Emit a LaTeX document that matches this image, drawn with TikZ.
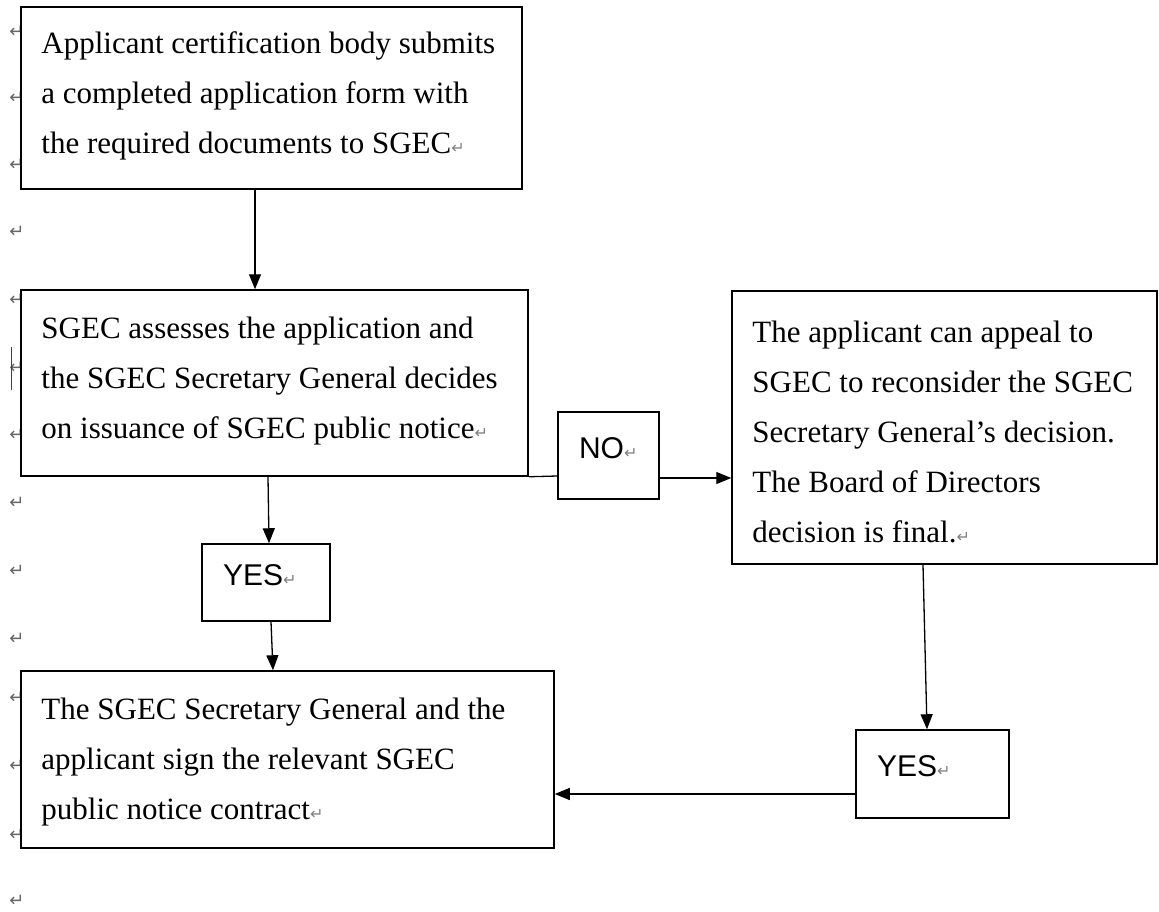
\documentclass[tikz,border=0pt]{standalone}
\usepackage{fontspec}
\setmainfont{Liberation Serif}
\newfontfamily\yesnofont{Liberation Sans}
\newfontfamily\markfont{DejaVu Sans}
\usetikzlibrary{arrows.meta}
\newcommand{\pmk}{{\markfont\fontsize{16}{16}\selectfont\color{black!50}↵}}

\begin{document}
\begin{tikzpicture}[x=1pt,y=-1pt,
    box/.style={draw,fill=white,line width=1.5pt,inner sep=0pt},
    txt/.style={anchor=west,align=left,inner sep=0pt,font={\fontsize{31}{50}\selectfont}},
    answer/.style={box,inner xsep=21pt,align=left,font={\yesnofont\fontsize{30}{36}\selectfont},
      text height=22.5pt,text depth=17pt},
    pmark/.style={inner sep=0pt,font={\markfont\fontsize{18}{18}\selectfont},text=black!60},
    arr/.style={line width=1.3pt,-{Triangle[length=15pt,width=12pt]}}]
  \useasboundingbox (0,0) rectangle (1159,912);
  % paragraph marks in the left margin
  \foreach \y [count=\i] in {32,98,165,232,300,368,435,503,571,639,698,766,835,901}
    \node[pmark] (m\i) at (17,\y) {↵};
  \draw[line width=1pt,black!75] (11,347) -- (11,390);
  \draw
    (271.5,98) node[box,minimum width=501pt,minimum height=182pt] (app) {}
    (274.5,383) node[box,minimum width=507pt,minimum height=186pt] (assess) {}
    (944.5,427.5) node[box,minimum width=425pt,minimum height=273pt] (appeal) {}
    (287.5,759.5) node[box,minimum width=533pt,minimum height=177pt] (sign) {}
    (608.5,455.5) node[answer,text width=59pt,minimum height=87pt] (no) {NO\pmk}
    (266,582.5) node[answer,text width=86pt,minimum height=77pt] (yesl) {YES\pmk}
    (932.5,774) node[answer,text width=111pt,minimum height=88pt] (yesr) {YES\pmk};
  \node[txt] (app-t) at ([xshift=21pt,yshift=2pt]app.west)
    {Applicant certification body submits\\a completed application form with\\the required documents to SGEC\pmk};
  \node[txt] (assess-t) at ([xshift=21pt,yshift=2pt]assess.west)
    {SGEC assesses the application and\\the SGEC Secretary General decides\\on issuance of SGEC public notice\pmk};
  \node[txt] (appeal-t) at ([xshift=21pt,yshift=-4pt]appeal.west)
    {The applicant can appeal to\\SGEC to reconsider the SGEC\\Secretary General’s decision.\\The Board of Directors\\decision is final.\pmk};
  \node[txt] (sign-t) at ([xshift=21pt,yshift=-3pt]sign.west)
    {The SGEC Secretary General and the\\applicant sign the relevant SGEC\\public notice contract\pmk};
  \begin{scope}[arr]
    \draw ([xshift=-16.5pt]app.south) to ([xshift=-19.5pt]assess.north);
    \draw ([xshift=-6.5pt]assess.south) to ([xshift=3pt]yesl.north);
    \draw ([xshift=5pt]yesl.south) to ([xshift=-14.5pt]sign.north);
    \draw ([yshift=-22.5pt]no.east) to ([yshift=-50.5pt]appeal.west);
    \draw ([xshift=-21.5pt]appeal.south) to ([xshift=-5.5pt]yesr.north);
    \draw ([yshift=-20pt]yesr.west) to ([yshift=-34.5pt]sign.east);
  \end{scope}
  \draw[line width=1.3pt] (assess.south east) to ([yshift=-20.5pt]no.west);
\end{tikzpicture}
\end{document}
